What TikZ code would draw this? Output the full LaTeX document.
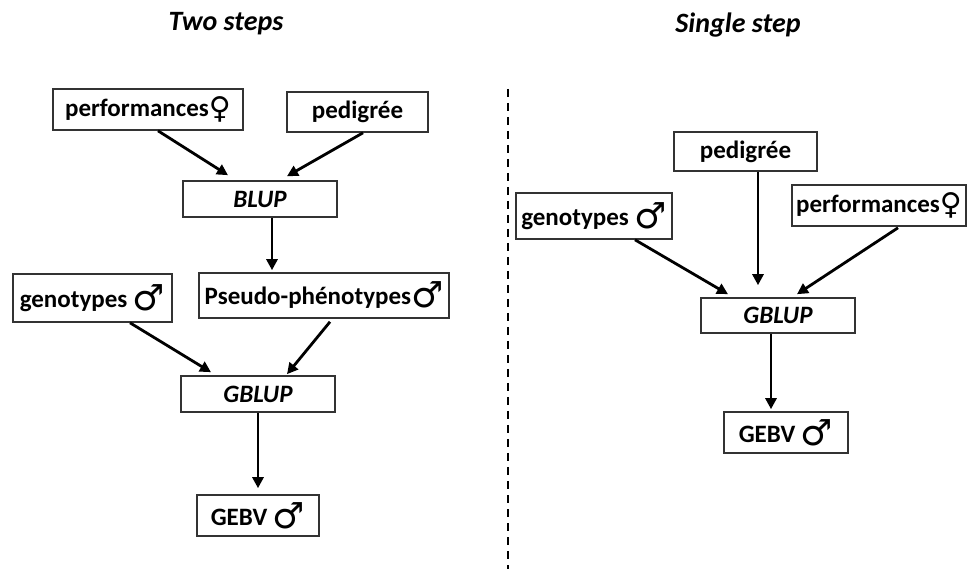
\documentclass[tikz,border=0pt]{standalone}
\usepackage{fontspec}
\setmainfont{Carlito}
\newfontfamily\symfont{DejaVu Sans}
\usetikzlibrary{calc,arrows.meta}

% sex symbols, set a little lower than the text baseline
\newcommand{\male}{\raisebox{-3pt}{\symfont\fontsize{36}{36}\selectfont ♂}}
\newcommand{\female}{\raisebox{-2pt}{\symfont\fontsize{30}{30}\selectfont ♀}}

\tikzset{
  box/.style={draw=black!80, line width=1.6pt, minimum width=#1, inner sep=0pt,
              font=\fontsize{25}{27}\selectfont\bfseries, text=black},
  method/.style={font=\fontsize{25}{27}\selectfont\bfseries\itshape},
  title/.style={font=\fontsize{28}{30}\selectfont\bfseries\itshape},
  flow/.style={line width=2.8pt, -{Triangle[length=11pt,width=11pt]}},
}

\begin{document}
\begin{tikzpicture}[x=1pt,y=-1pt]
  \useasboundingbox (0,0) rectangle (970,569);

  % column titles
  \node[title] (t1) at (226,24) {Two steps};
  \node[title] (t2) at (738,25) {Single step};

  % separator
  \coordinate (sepTop) at (508,89);
  \coordinate (sepBot) at (508,569);
  \draw[line width=2pt, dash pattern=on 8pt off 6pt] (sepTop) -- (sepBot);

  % ---- two-step evaluation ----
  \node[box=190pt, minimum height=41pt] (perfL) at (148,109.5) {performances\female};
  \node[box=141pt, minimum height=40pt] (pedL) at (357.5,112) {pedigrée};
  \node[box=154pt, minimum height=36pt, method] (blupL) at (260,199) {BLUP};
  \node[box=159pt, minimum height=48pt] (genoL) at (92.5,298) {genotypes \male};
  \node[box=250pt, minimum height=45pt] (pseudoL) at (324,295.5) {Pseudo-phénotypes\male};
  \node[box=154pt, minimum height=36pt, method] (gblupL) at (258,394) {GBLUP};
  \node[box=122pt, minimum height=41pt] (gebvL) at (258,515.5) {GEBV \male};

  \draw[flow] ($(perfL.south)+(10,0)$) -- ($(blupL.north)+(-32,-5)$);
  \draw[flow] ($(pedL.south)+(5.5,0)$) -- ($(blupL.north)+(27,-4)$);
  \draw[flow] ($(blupL.south)+(12,0)$) -- ($(pseudoL.north)+(-52,-2)$);
  \draw[flow] ($(genoL.south)+(37.5,0)$) -- ($(gblupL.north)+(-47,-3)$);
  \draw[flow] ($(pseudoL.south)+(6,3)$) -- ($(gblupL.north)+(29,-1)$);
  \draw[flow] (gblupL.south) -- ($(gebvL.north)+(0,-6)$);

  % ---- single-step evaluation ----
  \node[box=143pt, minimum height=39pt] (pedR) at (745.5,151.5) {pedigrée};
  \node[box=156pt, minimum height=46pt] (genoR) at (594,216) {genotypes \male};
  \node[box=174pt, minimum height=41pt] (perfR) at (879,205.5) {performances\female};
  \node[box=154pt, minimum height=35pt, method] (gblupR) at (778,315.5) {GBLUP};
  \node[box=124pt, minimum height=41pt] (gebvR) at (786,432.5) {GEBV \male};

  \draw[flow] ($(genoR.south)+(41,0)$) -- ($(gblupR.north)+(-50,-3)$);
  \draw[flow] ($(pedR.south)+(12.5,0)$) -- ($(gblupR.north)+(-20,-12)$);
  \draw[flow] ($(perfR.south)+(19,1)$) -- ($(gblupR.north)+(19,-3)$);
  \draw[flow] ($(gblupR.south)+(-7,0)$) -- ($(gebvR.north)+(-15,-2)$);
\end{tikzpicture}
\end{document}
